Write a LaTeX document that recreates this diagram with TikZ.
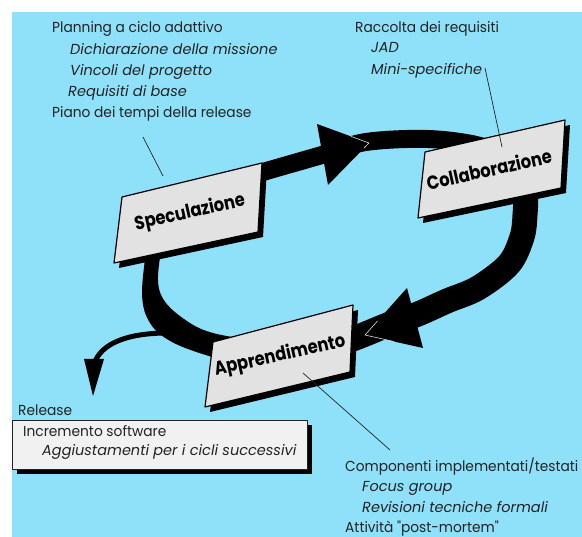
\documentclass[tikz,border=0pt]{standalone}
\usepackage{fontspec}
\setmainfont{Poppins}
\newfontfamily\notefont{Poppins}[FakeStretch=0.95]
\newfontfamily\inotefont{Poppins Italic}[FakeStretch=1.0]
\newfontfamily\cardfont{Poppins Bold}[FakeStretch=0.86]
\usetikzlibrary{calc,shadows}

\definecolor{skyblue}{RGB}{143,225,250}
\definecolor{cardgray}{RGB}{226,226,226}
\definecolor{inkgray}{RGB}{35,35,35}
\definecolor{releasefill}{RGB}{241,241,241}

\tikzset{
  note/.style={anchor=base west, inner sep=0pt, text=inkgray,
    font=\notefont\fontsize{14.5}{17}\selectfont},
  inote/.style={note, font=\inotefont\fontsize{14.5}{17}\selectfont},
  cardface/.style={fill=cardgray, draw=black, line width=1.2pt, line join=round},
  cardlabel/.style={inner sep=0pt, rotate=12.5, text=black,
    font=\cardfont\fontsize{19}{22}\selectfont},
  leader/.style={draw=inkgray, line width=0.7pt},
  band/.style={draw=black, line width=#1, line cap=butt},
  tipshine/.style={draw=white!75!gray, line width=0.6pt},
  releasebox/.style={rectangle, fill=releasefill, draw=inkgray, line width=0.8pt,
    minimum width=295pt, minimum height=49pt, anchor=north west, inner sep=0pt,
    drop shadow={shadow xshift=5pt, shadow yshift=-5pt, fill=black, opacity=1}},
}

% a slanted stage card with its offset shadow
\newcommand{\stagecard}[5]{%
  \coordinate (#1-a) at #2;
  \coordinate (#1-b) at #3;
  \coordinate (#1-c) at #4;
  \coordinate (#1-d) at #5;
  \fill[black] ([shift={(5,5)}]#1-a) -- ([shift={(5,5)}]#1-b)
    -- ([shift={(5,5)}]#1-c) -- ([shift={(5,5)}]#1-d) -- cycle;
  \filldraw[cardface] (#1-a) -- (#1-b) -- (#1-c) -- (#1-d) -- cycle;
}

\begin{document}
\begin{tikzpicture}[x=1pt,y=-1pt]
\useasboundingbox (0,0) rectangle (582,537);
\fill[white] (0,0) rectangle (582,537);
\fill[skyblue] (12,12) rectangle (582,537);

% ---- the cycle: speculation -> collaboration
\draw[band=18pt] plot[smooth, tension=0.55] coordinates
  {(235,181) (263,172) (322,155) (366,142) (428,139) (480,146) (512,162) (522,182)};
% collaboration -> learning
\draw[band=25pt] plot[smooth, tension=0.55] coordinates
  {(516,160) (525,190) (525,215) (522,237) (509,264) (478,288) (447,301) (418,314)
   (390,324) (350,340) (300,356)};
% learning -> speculation (tapering)
\fill[black] plot[smooth, tension=0.6] coordinates
  {(148,238) (142,293) (150,323) (172,342) (212,357) (250,366)}
  -- plot[smooth, tension=0.6] coordinates
  {(250,340) (213,333) (190,323) (166,303) (158,280) (163,238)} -- cycle;

% arrowheads on the cycle
\coordinate (tipA) at (369,143);
\coordinate (barbA1) at (317,124);
\coordinate (barbA2) at (328,185);
\fill[black] (barbA1) -- (tipA) -- (barbA2) -- cycle;
\draw[tipshine] ($(tipA)!0.35!(barbA1)$) -- (tipA) -- ($(tipA)!0.12!(barbA2)$);

\coordinate (tipB) at (365,335);
\coordinate (barbB1) at (407,288);
\coordinate (barbB2) at (423,348);
\fill[black] (barbB1) -- (tipB) -- (barbB2) -- cycle;
\draw[tipshine] ($(tipB)!0.3!(barbB1)$) -- (tipB) -- ($(tipB)!0.5!(barbB2)$);

% release branch
\coordinate (branchStart) at (168,333);
\coordinate (branchEnd) at (94,364);
\draw[black, line width=5pt] (branchStart) .. controls (128,333) and (101,343) .. (branchEnd);
\coordinate (releaseTip) at (93,396);
\fill[black] (84,359) -- (104,359) -- (releaseTip) -- cycle;

% ---- stage cards
\stagecard{spec}{(122,197)}{(262,163)}{(258,232)}{(114,263)}
\node[cardlabel] (spec) at (190,213) {Speculazione};

\stagecard{collab}{(425,152)}{(565,120)}{(561,188)}{(418,218)}
\node[cardlabel] (collab) at (489,169) {Collaborazione};

\stagecard{learn}{(213,342)}{(353,305)}{(350,372)}{(205,407)}
\node[cardlabel] (learn) at (280,356) {Apprendimento};

% ---- notes
\node[note]  (plan)    at (52,33)  {Planning a ciclo adattivo};
\node[inote] (mission) at (70,55)  {Dichiarazione della missione};
\node[inote] (bounds)  at (70,76)  {Vincoli del progetto};
\node[inote] (basereq) at (68,97)  {Requisiti di base};
\node[note]  (sched)   at (52,118) {Piano dei tempi della release};

\node[note]  (reqs)    at (355,33) {Raccolta dei requisiti};
\node[inote] (jad)     at (371,53) {JAD};
\node[inote] (minis)   at (371,75) {Mini-specifiche};

\node[note]  (comps)   at (345,472) {Componenti implementati/testati};
\node[inote] (focus)   at (362,492) {Focus group};
\node[inote] (reviews) at (362,513) {Revisioni tecniche formali};
\node[note]  (post)    at (345,533) {Attività "post-mortem"};

\node[note] (reltitle) at (18,416) {Release};
\node[releasebox] (release) at (12,420) {};
\node[note]  (incr)  at (23,437) {Incremento software};
\node[inote] (adj)   at (42,456) {Aggiustamenti per i cicli successivi};

% ---- leader lines
\coordinate (specTail) at (143,137);
\coordinate (specPin) at (163,176);
\draw[leader] (specTail) -- (specPin);
\coordinate (collabTail) at (485,68);
\coordinate (collabPin) at (502,147);
\draw[leader] (collabTail) -- (collabPin);
\coordinate (learnPin) at (303,373);
\coordinate (learnTail) at (390,450);
\draw[leader] (learnPin) -- (learnTail);
\end{tikzpicture}
\end{document}
